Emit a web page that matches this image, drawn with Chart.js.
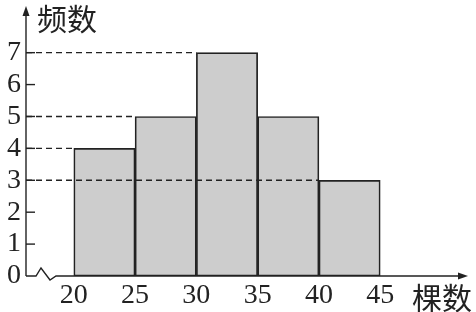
<!DOCTYPE html>
<html>
<head>
<meta charset="utf-8">
<script src="https://cdn.jsdelivr.net/npm/chart.js@4"></script>
<style>
  html, body { margin: 0; padding: 0; background: #fff; }
  canvas { display: block; }
</style>
</head>
<body>
<canvas id="hist" width="476" height="312"></canvas>
<script>
// bin edges and counts (频数 per group of 棵数)
const binStarts = [20, 25, 30, 35, 40];
const binWidth = 5;
const counts = [4, 5, 7, 5, 3];
const xTickValues = [20, 25, 30, 35, 40, 45];
const yTickValues = [0, 1, 2, 3, 4, 5, 6, 7];

const ink = "#222";
const digitFont = { family: "'Liberation Serif', 'Times New Roman', serif", size: 28 };

const barData = binStarts.map((s, i) => ({ x: s + binWidth / 2, y: counts[i] }));

// axes with arrows, break mark, small ticks and dashed guide lines
const decorations = {
	id: "decorations",
	afterDatasetsDraw(chart) {
		const { ctx, chartArea, scales } = chart;
		const xs = scales.x, ys = scales.y;
		const x0 = chartArea.left, y0 = ys.getPixelForValue(0);
		ctx.save();
		ctx.strokeStyle = ink;
		ctx.fillStyle = ink;
		ctx.lineWidth = 1.4;

		// dashed lines from the y axis to the first bar of each height
		ctx.setLineDash([6, 4]);
		const seen = [];
		counts.forEach((c, i) => {
			if (seen.includes(c)) return;
			seen.push(c);
			const py = ys.getPixelForValue(c);
			ctx.beginPath();
			ctx.moveTo(x0, py);
			ctx.lineTo(xs.getPixelForValue(binStarts[i]), py);
			ctx.stroke();
		});
		ctx.setLineDash([]);

		// short tick marks on the y axis
		yTickValues.forEach(v => {
			if (v === 0) return;
			const py = ys.getPixelForValue(v);
			ctx.beginPath();
			ctx.moveTo(x0, py);
			ctx.lineTo(x0 + 9, py);
			ctx.stroke();
		});

		// y axis with arrow
		ctx.beginPath();
		ctx.moveTo(x0, y0);
		ctx.lineTo(x0, chartArea.top + 4);
		ctx.stroke();
		ctx.beginPath();
		ctx.moveTo(x0, chartArea.top - 2);
		ctx.lineTo(x0 - 3.5, chartArea.top + 8);
		ctx.lineTo(x0 + 3.5, chartArea.top + 8);
		ctx.closePath();
		ctx.fill();

		// x axis with break mark and arrow
		ctx.beginPath();
		ctx.moveTo(x0, y0);
		ctx.lineTo(x0 + 10, y0);
		ctx.lineTo(x0 + 15, y0 - 8);
		ctx.lineTo(x0 + 24, y0 + 4);
		ctx.lineTo(x0 + 30, y0);
		ctx.lineTo(chartArea.right - 4, y0);
		ctx.stroke();
		ctx.beginPath();
		ctx.moveTo(chartArea.right + 2, y0);
		ctx.lineTo(chartArea.right - 8, y0 - 3.5);
		ctx.lineTo(chartArea.right - 8, y0 + 3.5);
		ctx.closePath();
		ctx.fill();

		// axis names
		ctx.font = "30px 'Noto Sans CJK SC', sans-serif";
		ctx.textBaseline = "alphabetic";
		ctx.textAlign = "left";
		ctx.fillText("频数", x0 + 11, 30);
		ctx.fillText("棵数", 412, 309);
		ctx.restore();
	}
};

const config = {
	type: "bar",
	data: {
		datasets: [
			{
				data: barData,
				backgroundColor: "#cdcdcd",
				borderColor: "#222",
				borderWidth: 1.7,
				borderSkipped: false,
				barPercentage: 1,
				categoryPercentage: 1,
			},
		],
	},
	options: {
		responsive: false, // fixed 476x312
		animation: false,
		layout: { padding: { top: 8, right: 10, left: 0, bottom: 0 } },
		plugins: { legend: { display: false }, tooltip: { enabled: false } },
		scales: {
			x: {
				type: "linear",
				offset: false,
				min: 16.1,
				max: 52,
				grid: { display: false, drawTicks: false },
				border: { display: false },
				afterBuildTicks: s => { s.ticks = xTickValues.map(v => ({ value: v })); },
				afterFit: s => { s.height = 36; s.paddingLeft = 0; s.paddingRight = 0; },
				ticks: { font: digitFont, color: ink, padding: 3, maxRotation: 0, autoSkip: false },
			},
			y: {
				min: 0,
				max: 8.4,
				grid: { display: false, drawTicks: false },
				border: { display: false },
				afterBuildTicks: s => { s.ticks = yTickValues.map(v => ({ value: v })); },
				afterFit: s => { s.width = 26; s.paddingTop = 0; s.paddingBottom = 0; },
				ticks: { font: digitFont, color: ink, padding: 5, autoSkip: false },
			},
		},
	},
	plugins: [decorations],
};

new Chart(document.getElementById("hist").getContext("2d"), config);
</script>
</body>
</html>
